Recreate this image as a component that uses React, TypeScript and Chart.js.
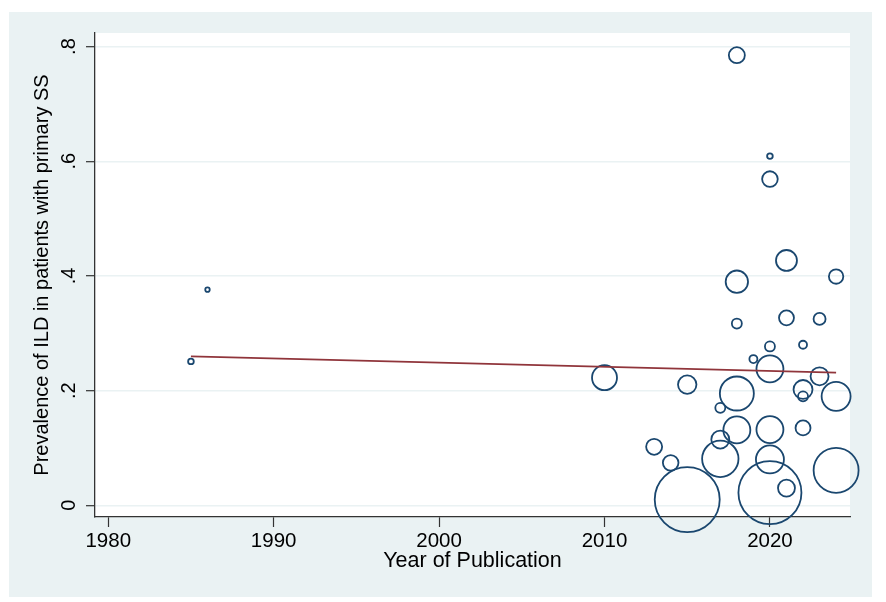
import React, { useEffect, useRef } from "react";
import { Chart, registerables } from "chart.js";

Chart.register(...registerables);

// ---- data ----
const studyYears = [
  1985, 1986, 2010, 2013, 2014, 2015, 2015, 2017, 2017, 2017,
  2018, 2018, 2018, 2018, 2018, 2019, 2020, 2020, 2020, 2020,
  2020, 2020, 2020, 2021, 2021, 2021, 2022, 2022, 2022, 2022,
  2023, 2023, 2024, 2024, 2024,
];
const prevalence = [
  0.251, 0.376, 0.2226, 0.102, 0.074, 0.2105, 0.010, 0.170, 0.1146, 0.081,
  0.785, 0.390, 0.317, 0.195, 0.1315, 0.255, 0.609, 0.569, 0.277, 0.238,
  0.132, 0.080, 0.022, 0.427, 0.327, 0.030, 0.280, 0.202, 0.190, 0.135,
  0.325, 0.225, 0.399, 0.190, 0.061,
];
const studyWeights = [
  8, 5, 156, 64, 61, 85, 1056, 25, 81, 331,
  64, 125, 25, 289, 182, 16, 8, 61, 25, 182,
  182, 196, 992, 110, 56, 72, 16, 90, 25, 56,
  36, 81, 52, 210, 506,
];
const fitYears = [1985, 2024];
const fitPrevalence = [0.2598, 0.2314];

const xTickValues = [1980, 1990, 2000, 2010, 2020];
const xTickLabels = ["1980", "1990", "2000", "2010", "2020"];
const yTickValues = [0, 0.2, 0.4, 0.6, 0.8];
const yTickLabels = ["0", ".2", ".4", ".6", ".8"];

const xTitle = "Year of Publication";
const yTitle = "Prevalence of ILD in patients with primary SS";

const FONT = "'Liberation Sans', Arial, Helvetica, sans-serif";
const PANEL = "#eaf2f3";
const NAVY = "#1a476f";
const MAROON = "#90353b";
const AXIS = "#333333";

const plotBackground = {
  id: "plotBackground",
  beforeDraw(chart: any) {
    const { ctx, chartArea: a } = chart;
    ctx.save();
    ctx.fillStyle = "#ffffff";
    ctx.fillRect(a.left, a.top, a.right - a.left, a.bottom - a.top);
    ctx.restore();
  },
};

export default function App() {
  const canvasRef = useRef<HTMLCanvasElement | null>(null);

  useEffect(() => {
    if (!canvasRef.current) return;
    const bubbles = studyYears.map((yr, i) => ({
      x: yr,
      y: prevalence[i],
      r: Math.sqrt(studyWeights[i]),
    }));
    const fitLine = fitYears.map((yr, i) => ({ x: yr, y: fitPrevalence[i] }));

    const chart = new Chart(canvasRef.current, {
      type: "bubble",
      data: {
        datasets: [
          {
            type: "line",
            label: "Fitted values",
            data: fitLine,
            borderColor: MAROON,
            borderWidth: 1.6,
            pointRadius: 0,
            pointHoverRadius: 0,
            fill: false,
            tension: 0,
          } as any,
          {
            type: "bubble",
            label: "Prevalence",
            data: bubbles,
            backgroundColor: "rgba(0,0,0,0)",
            borderColor: NAVY,
            borderWidth: 1.8,
            hoverRadius: 0,
            clip: false,
          } as any,
        ],
      },
      options: {
        animation: false,
        responsive: false,
        events: [],
        layout: { autoPadding: false, padding: { left: 0, top: 21, right: 22, bottom: 0 } },
        plugins: {
          legend: { display: false },
          tooltip: { enabled: false },
        },
        scales: {
          x: {
            type: "linear",
            min: 1979.2,
            max: 2024.84,
            afterFit: (s: any) => {
              s.height = 80;
            },
            afterBuildTicks: (s: any) => {
              s.ticks = xTickValues.map((v) => ({ value: v }));
            },
            ticks: {
              color: "#000",
              font: { family: FONT, size: 20.5 },
              padding: 2,
              maxRotation: 0,
              autoSkip: false,
              callback: (v: any) => xTickLabels[xTickValues.indexOf(Number(v))] ?? "",
            },
            grid: {
              drawOnChartArea: false,
              drawTicks: true,
              tickLength: 10,
              tickColor: AXIS,
              tickWidth: 1.2,
            },
            border: { display: true, color: AXIS, width: 1.3 },
            title: {
              display: true,
              text: xTitle,
              color: "#000",
              font: { family: FONT, size: 21.5 },
              padding: { top: 0, bottom: 23 },
            },
          },
          y: {
            type: "linear",
            min: -0.0204,
            max: 0.8237,
            afterFit: (s: any) => {
              s.width = 86;
            },
            afterBuildTicks: (s: any) => {
              s.ticks = yTickValues.map((v) => ({ value: v }));
            },
            ticks: {
              color: "#000",
              font: { family: FONT, size: 20 },
              minRotation: 90,
              maxRotation: 90,
              crossAlign: "center",
              padding: 8.6,
              autoSkip: false,
              callback: (v: any) => {
                const idx = yTickValues.findIndex((t) => Math.abs(t - Number(v)) < 1e-9);
                return idx >= 0 ? yTickLabels[idx] : "";
              },
            },
            grid: {
              drawOnChartArea: true,
              color: PANEL,
              lineWidth: 1.4,
              drawTicks: true,
              tickLength: 9,
              tickColor: AXIS,
              tickWidth: 1.2,
            },
            border: { display: true, color: AXIS, width: 1.3 },
            title: {
              display: true,
              text: yTitle,
              color: "#000",
              font: { family: FONT, size: 20 },
              padding: { top: 21.7, bottom: 0 },
            },
          },
        },
      } as any,
      plugins: [plotBackground],
    });
    return () => chart.destroy();
  }, []);

  return (
    <div
      style={{
        position: "fixed",
        left: 0,
        top: 0,
        width: 886,
        height: 602,
        background: "#ffffff",
      }}
    >
      <div
        style={{
          position: "absolute",
          left: 9,
          top: 12,
          width: 863,
          height: 585,
          background: PANEL,
        }}
      >
        <canvas ref={canvasRef} width={863} height={585} style={{ display: "block" }} />
      </div>
    </div>
  );
}
